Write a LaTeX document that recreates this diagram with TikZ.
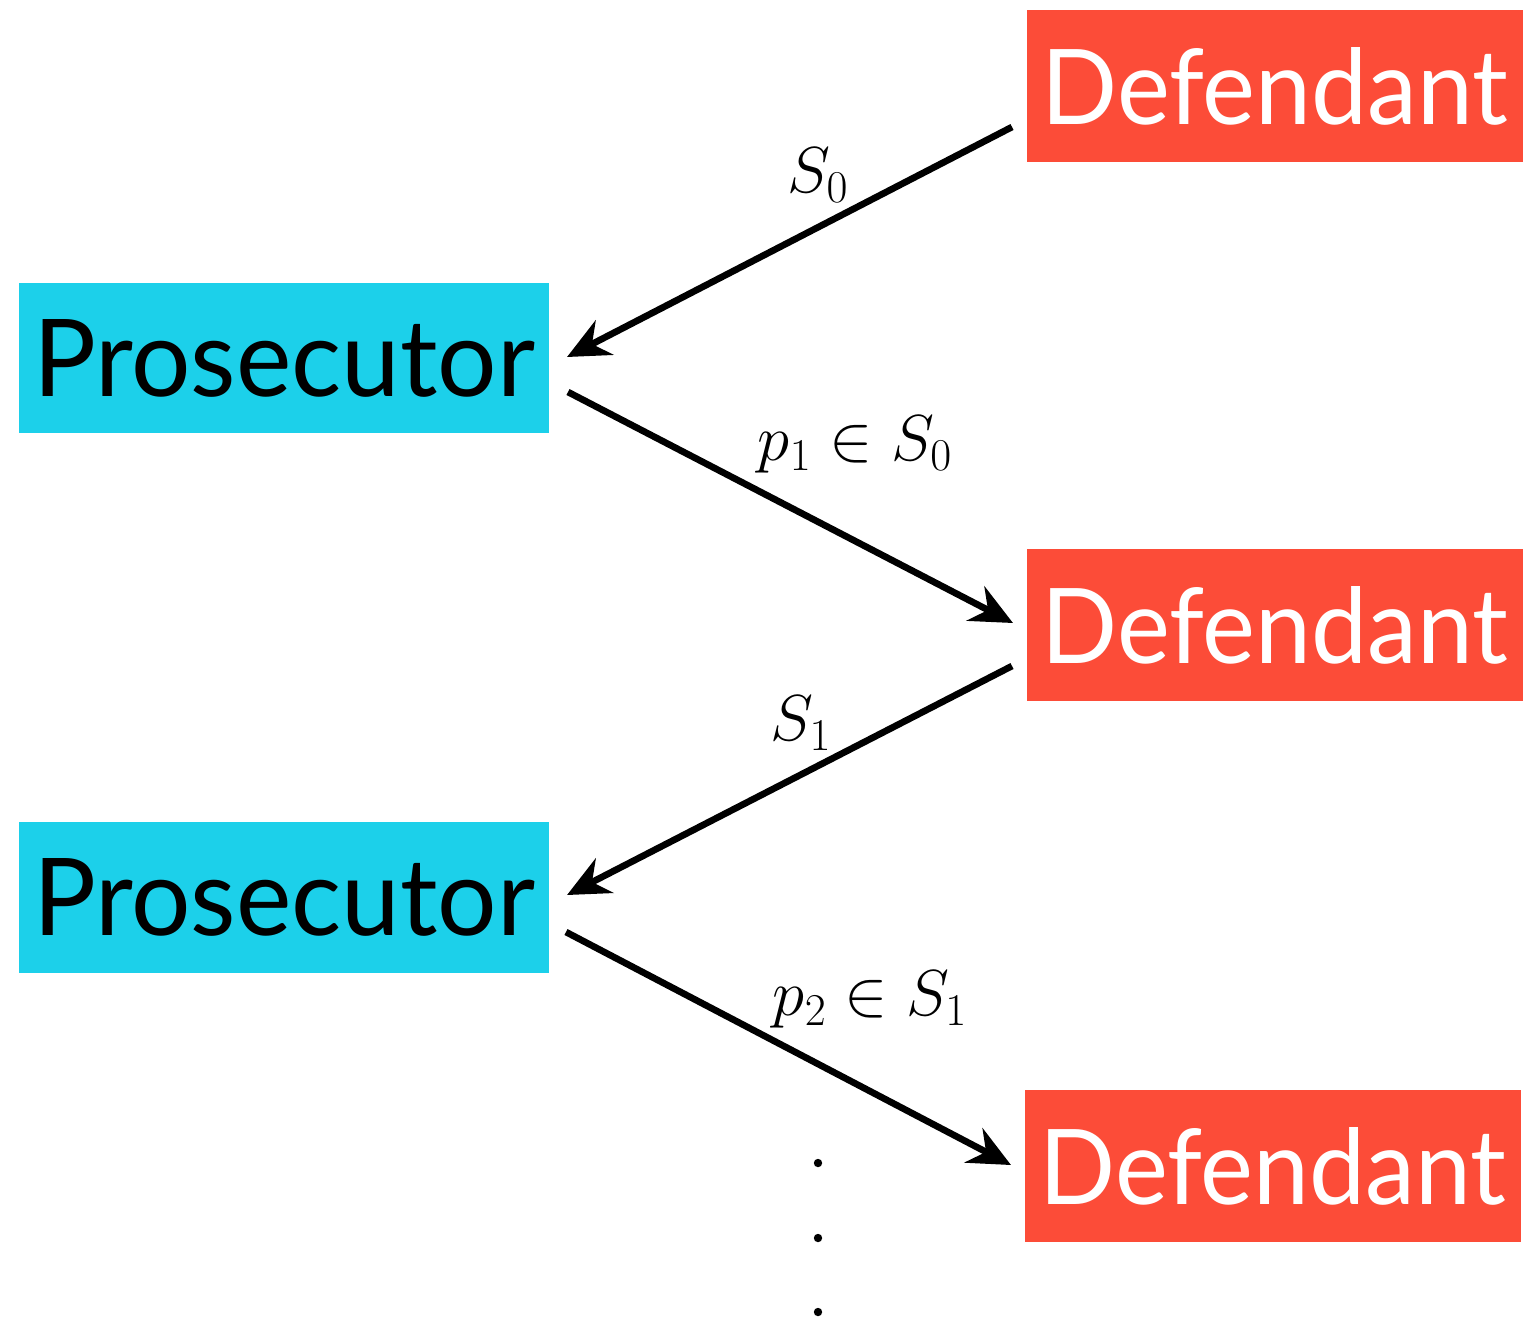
\RequirePackage{fix-cm}
\documentclass[tikz,border=0pt]{standalone}
\usepackage{fontspec}
\setsansfont{Lato}
\usetikzlibrary{arrows.meta}
\definecolor{defred}{RGB}{252,76,56}
\definecolor{proscyan}{RGB}{28,208,234}
\newcommand{\deftext}{\resizebox{9.34cm}{1.54cm}{\sffamily Defendant}}
\newcommand{\prostext}{\resizebox{10.04cm}{1.54cm}{\sffamily Prosecutor}}
\begin{document}
\begin{tikzpicture}[x=0.02cm,y=-0.02cm,
  defbox/.style={fill=defred, text=white, minimum width=9.92cm, minimum height=3.04cm, inner sep=0pt},
  prosbox/.style={fill=proscyan, text=black, minimum width=10.6cm, minimum height=3.02cm, inner sep=0pt},
  conn/.style={line width=3.8pt, -{Stealth[length=24pt, width=22pt, inset=8pt]}},
  lab/.style={inner sep=0pt, font=\fontsize{37}{42}\selectfont}
]
\useasboundingbox (0,0) rectangle (1524,1323);
\node[defbox] (d1) at (1275,86) {\deftext};
\node[defbox] (d2) at (1275,625) {\deftext};
\node[defbox] (d3) at (1273,1166) {\deftext};
\node[prosbox] (p1) at (284,358) {\prostext};
\node[prosbox] (p2) at (284,897) {\prostext};

\coordinate (a1s) at (1012,127);
\coordinate (a1e) at (567,357);
\coordinate (a2s) at (568,392);
\coordinate (a2e) at (1013,623);
\coordinate (a3s) at (1012,666);
\coordinate (a3e) at (567,895);
\coordinate (a4s) at (566,932);
\coordinate (a4e) at (1011,1165);

\draw[conn] (a1s) -- (a1e);
\draw[conn] (a2s) -- (a2e);
\draw[conn] (a3s) -- (a3e);
\draw[conn] (a4s) -- (a4e);

\node[lab] (l1) at (818,175) {$S_0$};
\node[lab] (l2) at (855,445) {$p_1 \in S_0$};
\node[lab] (l3) at (801,723) {$S_1$};
\node[lab] (l4) at (870,1000) {$p_2 \in S_1$};

\fill (818,1163) circle (4.2) (818,1238) circle (4.2) (818,1312) circle (4.2);
\end{tikzpicture}
\end{document}
